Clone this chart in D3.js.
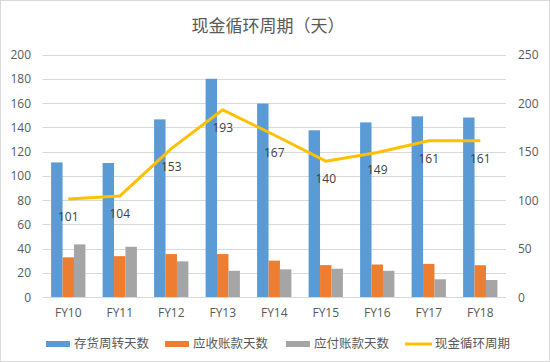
<!DOCTYPE html>
<html lang="zh">
    <head>
        <meta charset="utf-8">
        <title>现金循环周期（天）</title>
        <script type="text/javascript" src="https://cdn.jsdelivr.net/npm/d3@7/dist/d3.min.js"></script>
        <style>
            body { margin: 0; background: #fff; }
            text { font-family: "Noto Sans CJK SC", "Noto Sans", sans-serif; }
        </style>
    </head>
    <body>
        <script type="text/javascript">
            // data
            var years = ["FY10", "FY11", "FY12", "FY13", "FY14", "FY15", "FY16", "FY17", "FY18"];
            var inventoryDays = [111, 110.5, 146.5, 180, 159.5, 137.5, 144, 149, 148];
            var receivableDays = [32.7, 33.7, 35.4, 35.4, 30, 26.3, 26.8, 27.3, 26.2];
            var payableDays = [43.4, 41.4, 29.4, 21.6, 22.8, 23.3, 21.6, 14.6, 14];
            var cashCycle = [101, 104, 153, 193, 167, 140, 149, 161, 161];
            var leftTicks = [0, 20, 40, 60, 80, 100, 120, 140, 160, 180, 200];
            var rightTicks = [0, 50, 100, 150, 200, 250];
            var seriesNames = ["存货周转天数", "应收账款天数", "应付账款天数", "现金循环周期"];
            var colors = ["#5b9bd5", "#ed7d31", "#a5a5a5", "#ffc000"];

            var svgWidth = 550;
            var svgHeight = 362;

            var svg = d3.select("body")
                        .append("svg")
                        .attr("width", svgWidth)
                        .attr("height", svgHeight);

            // light frame round the picture
            svg.append("rect")
                .attr("x", 0.5).attr("y", 0.5)
                .attr("width", svgWidth - 1).attr("height", svgHeight - 1)
                .attr("fill", "none")
                .attr("stroke", "#d9d9d9");

            var xScale = d3.scaleBand()
                            .domain(years)
                            .range([42.5, 506]);

            var inner = d3.scaleBand()
                            .domain([0, 1, 2])
                            .range([8.6, xScale.bandwidth() - 8.6]);

            var yLeft = d3.scaleLinear()
                            .domain([0, 200])
                            .range([297, 54.5]);

            var yRight = d3.scaleLinear()
                            .domain([0, 250])
                            .range([297, 54.5]);

            // gridlines
            svg.append("g")
                .selectAll("line")
                .data(leftTicks)
                .enter()
                .append("line")
                .attr("x1", 42.5)
                .attr("x2", 506)
                .attr("y1", function(d) { return Math.round(yLeft(d)) + 0.5; })
                .attr("y2", function(d) { return Math.round(yLeft(d)) + 0.5; })
                .attr("stroke", "#d9d9d9");

            // left axis
            var yAxisLeft = d3.axisLeft(yLeft).tickValues(leftTicks).tickSize(0).tickPadding(0);
            var L = svg.append("g")
                        .attr("transform", "translate(31,0)")
                        .call(yAxisLeft);
            // right axis
            var yAxisRight = d3.axisRight(yRight).tickValues(rightTicks).tickSize(0).tickPadding(0);
            var R = svg.append("g")
                        .attr("transform", "translate(518,0)")
                        .call(yAxisRight);
            // x axis
            var xAxis = d3.axisBottom(xScale).tickSize(0).tickPadding(0);
            var X = svg.append("g")
                        .attr("transform", "translate(0,308)")
                        .call(xAxis);

            [L, R, X].forEach(function(g) {
                g.select(".domain").remove();
                g.selectAll("text")
                    .attr("fill", "#595959")
                    .attr("font-size", "12px")
                    .style("font-family", "'Open Sans', 'Noto Sans', sans-serif");
            });
            L.selectAll("text").attr("dy", "0.35em");
            R.selectAll("text").attr("dy", "0.35em");

            // bars
            var barSeries = [inventoryDays, receivableDays, payableDays];
            barSeries.forEach(function(values, k) {
                svg.append("g")
                    .selectAll("rect")
                    .data(values)
                    .enter()
                    .append("rect")
                    .attr("x", function(d, i) { return xScale(years[i]) + inner(k); })
                    .attr("y", function(d) { return yLeft(d); })
                    .attr("width", inner.bandwidth())
                    .attr("height", function(d) { return yLeft(0) - yLeft(d); })
                    .attr("fill", colors[k]);
            });

            // cash cycle line on the right axis
            var line = d3.line()
                        .x(function(d, i) { return xScale(years[i]) + xScale.bandwidth() / 2; })
                        .y(function(d) { return yRight(d); });

            svg.append("path")
                .datum(cashCycle)
                .attr("d", line)
                .attr("fill", "none")
                .attr("stroke", colors[3])
                .attr("stroke-width", 3)
                .attr("stroke-linejoin", "round");

            svg.append("g")
                .selectAll("text")
                .data(cashCycle)
                .enter()
                .append("text")
                .attr("x", function(d, i) { return xScale(years[i]) + xScale.bandwidth() / 2; })
                .attr("y", function(d) { return yRight(d) + 22; })
                .attr("text-anchor", "middle")
                .attr("font-size", "12px")
                .attr("fill", "#404040")
                .style("font-family", "'Open Sans', 'Noto Sans', sans-serif")
                .text(function(d) { return d; });

            // title
            svg.append("text")
                .attr("x", 268)
                .attr("y", 32)
                .attr("text-anchor", "middle")
                .attr("font-size", "17px")
                .attr("fill", "#595959")
                .text("现金循环周期（天）");

            // legend
            var legendX = [46, 165, 286, 405];
            var legend = svg.append("g")
                            .selectAll("g")
                            .data(seriesNames)
                            .enter()
                            .append("g")
                            .attr("transform", function(d, i) { return "translate(" + legendX[i] + ",344)"; });

            legend.append("rect")
                .attr("x", 0)
                .attr("y", function(d, i) { return i < 3 ? -3 : -1.5; })
                .attr("width", function(d, i) { return i < 3 ? 24 : 27; })
                .attr("height", function(d, i) { return i < 3 ? 6 : 3; })
                .attr("fill", function(d, i) { return colors[i]; });

            legend.append("text")
                .attr("x", function(d, i) { return i < 3 ? 28 : 30; })
                .attr("y", 0)
                .attr("dy", "0.35em")
                .attr("font-size", "12.5px")
                .attr("fill", "#595959")
                .text(function(d) { return d; });
        </script>
    </body>
</html>
